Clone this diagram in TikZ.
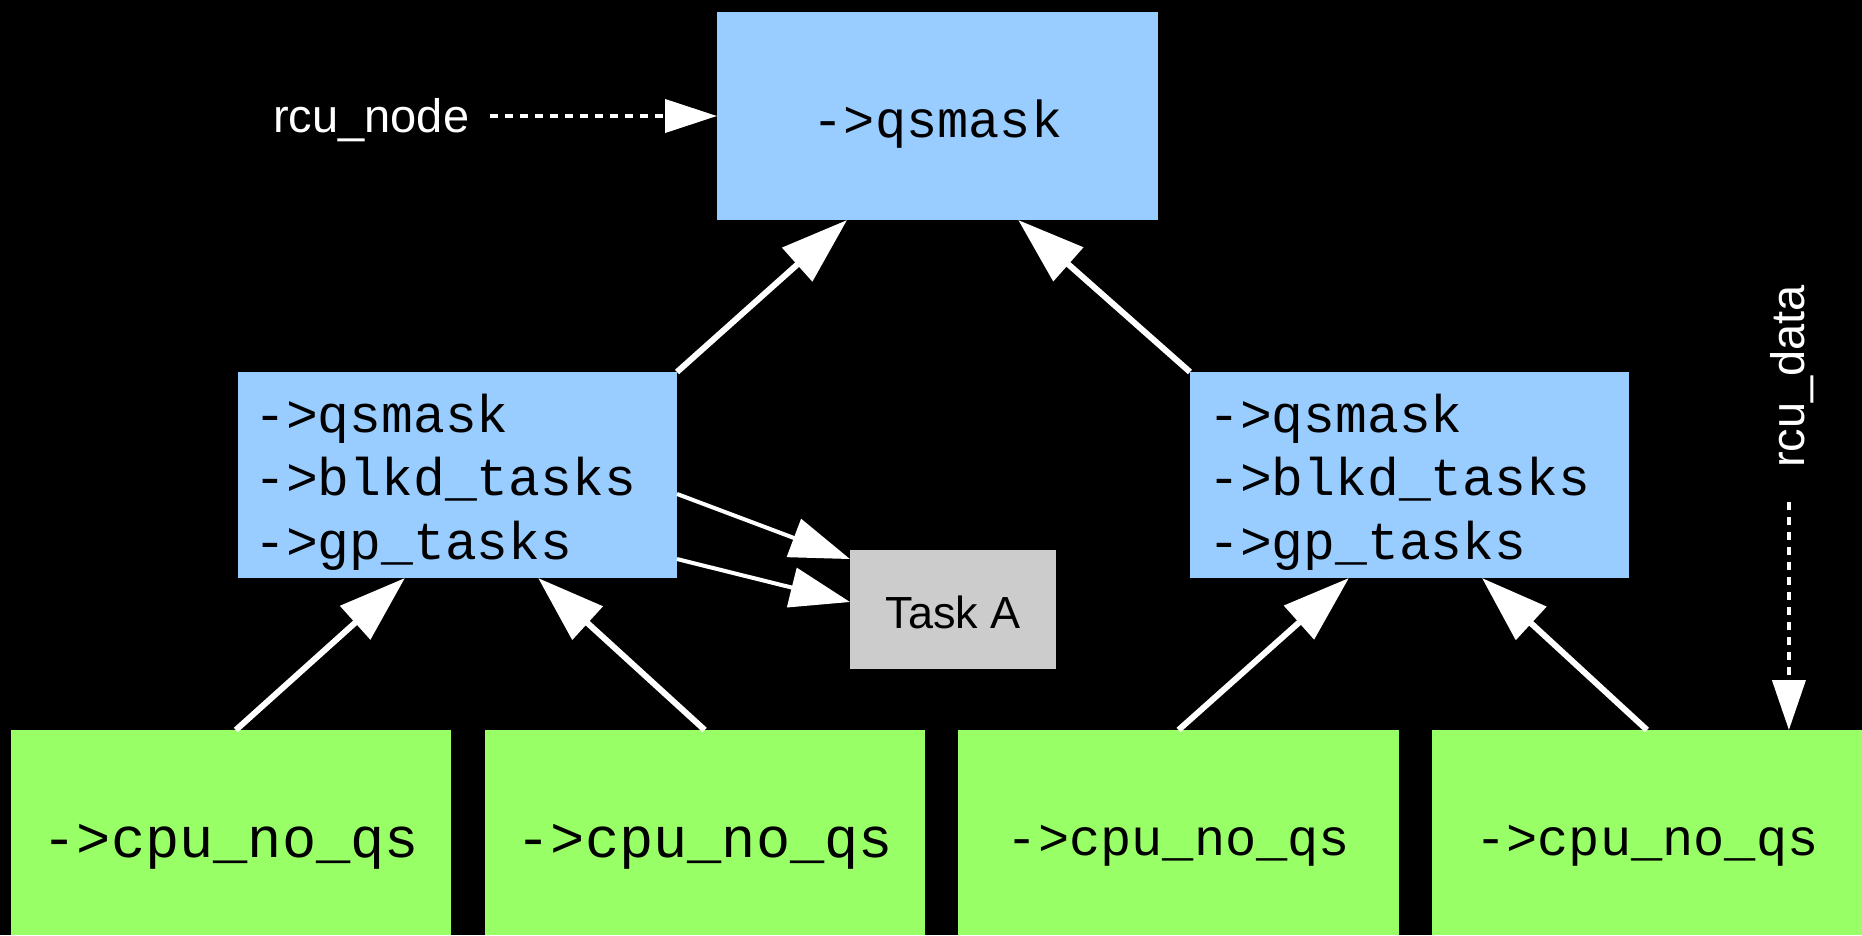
\documentclass[tikz,border=0pt]{standalone}
\usepackage{fontspec}
\setmainfont{Liberation Sans}
\newfontfamily\monof{Liberation Mono}
\usetikzlibrary{arrows.meta,calc}
\definecolor{nodeblue}{HTML}{99CCFF}
\definecolor{cpugreen}{HTML}{99FF66}
\definecolor{taskgray}{HTML}{CCCCCC}
\begin{document}
\begin{tikzpicture}[x=1pt,y=-1pt,
  box/.style={draw=none, inner sep=0pt, outer sep=0pt, text=black},
  nodebox/.style={box, fill=nodeblue},
  cpubox/.style={box, fill=cpugreen, minimum height=205pt, text depth=2pt},
  cpubig/.style={cpubox, font=\monof\fontsize{57}{66}\selectfont, text height=51pt},
  cpusmall/.style={cpubox, font=\monof\fontsize{52}{62}\selectfont, text height=47pt},
  monotext/.style={font=\monof\fontsize{53}{63.5}\selectfont, text=black, inner sep=0pt},
  labeltext/.style={font=\fontsize{47}{56}\selectfont, text=white, inner sep=0pt},
  bigarrow/.style={draw=white, line width=6pt, -{Triangle[length=67pt,width=44pt]}},
  thinarrow/.style={draw=white, line width=4pt, -{Triangle[length=60pt,width=40pt]}},
  dotarrow/.style={draw=white, line width=4pt, dash pattern=on 7.5pt off 7.5pt},
]
\fill[black] (0,0) rectangle (1862,935);
\useasboundingbox (0,0) rectangle (1862,935);

% rcu_node boxes
\node[nodebox, minimum width=441pt, minimum height=208pt,
      font=\monof\fontsize{52}{62}\selectfont, text height=44pt, text depth=2pt]
      (root) at (937.5,116) {->qsmask};
\node[nodebox, minimum width=439.5pt, minimum height=206pt] (lmid) at (457.25,475) {};
\node[monotext, anchor=base west] (lmidtxt) at (254,432)
  {\begin{tabular}[t]{@{}l@{}}->qsmask\\->blkd\_tasks\\->gp\_tasks\end{tabular}};
\node[nodebox, minimum width=439pt, minimum height=206pt] (rmid) at (1409.5,475) {};
\node[monotext, anchor=base west] (rmidtxt) at (1208,432)
  {\begin{tabular}[t]{@{}l@{}}->qsmask\\->blkd\_tasks\\->gp\_tasks\end{tabular}};

% task
\node[box, fill=taskgray, minimum width=206pt, minimum height=119pt,
      font=\fontsize{45}{54}\selectfont, text height=39pt, text depth=2pt]
      (task) at (953,609.5) {Task A};

% rcu_data boxes
\node[cpubig, minimum width=440.3pt] (g1) at (230.85,832.5) {->cpu\_no\_qs};
\node[cpubig, minimum width=440.5pt] (g2) at (704.75,832.5) {->cpu\_no\_qs};
\node[cpusmall, minimum width=441pt] (g3) at (1178.5,832.5) {->cpu\_no\_qs};
\node[cpusmall, minimum width=430pt] (g4) at (1647,832.5) {->cpu\_no\_qs};

% labels
\node[labeltext, anchor=base west] (rcunode) at (273,132) {rcu\_node};
\node[labeltext, rotate=90, anchor=base west] (rcudata) at (1804,468) {rcu\_data};

% connectors
\draw[bigarrow] (lmid.north east) -- ($(root.south west)!0.295!(root.south east)$);
\draw[bigarrow] (rmid.north west) -- ($(root.south west)!0.683!(root.south east)$);
\draw[bigarrow] ($(g1.north)+(5,0)$) -- ($(lmid.south west)!0.381!(lmid.south east)$);
\draw[bigarrow] (g2.north) -- ($(lmid.south west)!0.684!(lmid.south east)$);
\draw[bigarrow] (g3.north) -- ($(rmid.south west)!0.362!(rmid.south east)$);
\draw[bigarrow] (g4.north) -- ($(rmid.south west)!0.665!(rmid.south east)$);

\draw[thinarrow] ($(lmid.north east)!0.592!(lmid.south east)$) -- ($(task.north west)!0.076!(task.south west)$);
\draw[thinarrow] ($(lmid.north east)!0.908!(lmid.south east)$) -- ($(task.north west)!0.437!(task.south west)$);

\coordinate (rntail) at (490,116);
\draw[dotarrow, -{Triangle[length=52pt,width=33pt]}] (rntail) -- (root.west);
\coordinate (rdtip) at ($(g4.north west)!0.83!(g4.north east)$);
\draw[dotarrow, -{Triangle[length=50pt,width=33pt]}, shorten <=34pt]
  (rcudata.west -| rdtip) -- (rdtip);
\end{tikzpicture}
\end{document}
